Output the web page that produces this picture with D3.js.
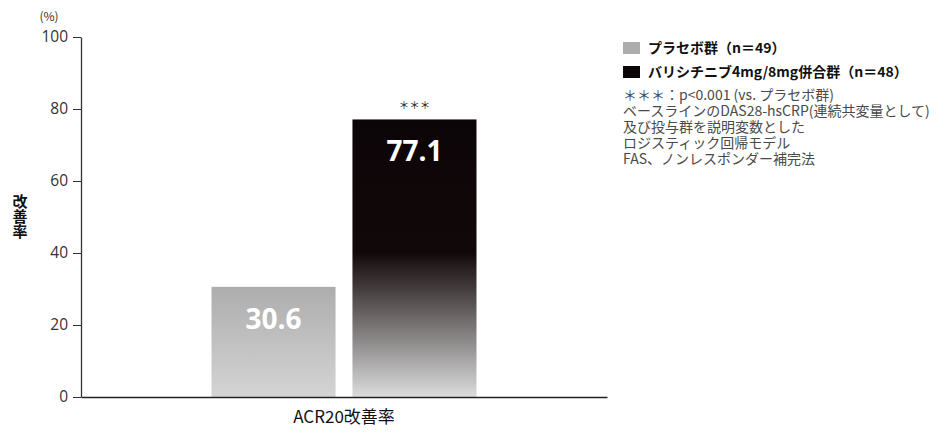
<!DOCTYPE html>
<html>
<head>
<meta charset="utf-8">
<script src="https://cdn.jsdelivr.net/npm/d3@7"></script>
<style>
  body { margin: 0; background: #fff; }
  svg { display: block; font-family: "Noto Sans CJK JP", "Noto Sans", sans-serif; }
</style>
</head>
<body>
<svg id="chart" width="942" height="434"></svg>
<script>
// data
const categories = ["ACR20改善率"];
const groups = ["プラセボ群（n＝49）", "バリシチニブ4mg/8mg併合群（n＝48）"];
const values = [30.6, 77.1];
const yTicks = [0, 20, 40, 60, 80, 100];
const notes = [
  "＊＊＊：p<0.001 (vs. プラセボ群)",
  "ベースラインのDAS28-hsCRP(連続共変量として)",
  "及び投与群を説明変数とした",
  "ロジスティック回帰モデル",
  "FAS、ノンレスポンダー補完法"
];
const sigMarks = ["", "＊＊＊"];

const svg = d3.select("#chart");
const margin = {left: 81, right: 335, top: 37, bottom: 37};
const W = 942, H = 434;

const y = d3.scaleLinear().domain([0, 100]).range([H - margin.bottom, margin.top]);
const x0 = d3.scaleBand().domain(categories).range([margin.left, W - margin.right])
  .paddingInner(0).paddingOuter(0.4925);
const x1 = d3.scaleBand().domain(groups).range([0, x0.bandwidth()])
  .paddingInner(0.12).paddingOuter(0);

// gradients
const defs = svg.append("defs");
const g1 = defs.append("linearGradient").attr("id", "gPlacebo")
  .attr("x1", 0).attr("y1", 0).attr("x2", 0).attr("y2", 1);
g1.append("stop").attr("offset", "0%").attr("stop-color", "#adadad");
g1.append("stop").attr("offset", "100%").attr("stop-color", "#d4d4d4");
const g2 = defs.append("linearGradient").attr("id", "gBari")
  .attr("x1", 0).attr("y1", 0).attr("x2", 0).attr("y2", 1);
g2.append("stop").attr("offset", "0%").attr("stop-color", "#0c0507");
g2.append("stop").attr("offset", "48%").attr("stop-color", "#110809");
g2.append("stop").attr("offset", "100%").attr("stop-color", "#dcdcdc");
const fills = ["url(#gPlacebo)", "url(#gBari)"];

// bars
const barG = svg.append("g");
barG.selectAll("rect.bar")
  .data(values)
  .enter()
  .append("rect")
  .classed("bar", true)
  .attr("x", (d, i) => x0(categories[0]) + x1(groups[i]))
  .attr("y", d => y(d))
  .attr("width", x1.bandwidth())
  .attr("height", d => y(0) - y(d))
  .attr("fill", (d, i) => fills[i]);

// value labels
barG.selectAll("text.val")
  .data(values)
  .enter()
  .append("text")
  .classed("val", true)
  .attr("x", (d, i) => x0(categories[0]) + x1(groups[i]) + x1.bandwidth() / 2)
  .attr("y", d => y(d) + 42)
  .attr("text-anchor", "middle")
  .attr("fill", "#fff")
  .attr("font-family", "'Open Sans', 'Noto Sans', sans-serif")
  .attr("font-weight", 700)
  .attr("font-size", "28px")
  .text(d => d.toFixed(1));

// significance
barG.selectAll("text.sig")
  .data(values)
  .enter()
  .append("text")
  .classed("sig", true)
  .attr("x", (d, i) => x0(categories[0]) + x1(groups[i]) + x1.bandwidth() / 2)
  .attr("y", d => y(d) - 10)
  .attr("text-anchor", "middle")
  .attr("fill", "#222")
  .attr("font-size", "10.5px")
  .text((d, i) => sigMarks[i]);

// y axis
const yAxis = svg.append("g")
  .attr("transform", `translate(${margin.left},0)`)
  .call(d3.axisLeft(y).tickValues(yTicks).tickSize(8).tickSizeOuter(0).tickPadding(5));
yAxis.select(".domain").attr("stroke", "#333").attr("stroke-width", 1.3);
yAxis.selectAll(".tick line").attr("stroke", "#333");
yAxis.selectAll(".tick text")
  .attr("font-family", "'Open Sans', 'Noto Sans', sans-serif")
  .attr("font-size", "15.5px").attr("fill", "#333");

// x axis
const xAxis = svg.append("g")
  .attr("transform", `translate(0,${y(0)})`)
  .call(d3.axisBottom(x0).tickSize(0).tickSizeOuter(0).tickPadding(14));
xAxis.select(".domain").attr("stroke", "#222").attr("stroke-width", 1.5);
xAxis.selectAll(".tick text").attr("font-size", "17px").attr("fill", "#111")
  .attr("font-family", "'Noto Sans CJK JP', sans-serif");

// unit and y title
svg.append("text").attr("x", 49).attr("y", 21).attr("text-anchor", "middle")
  .attr("font-size", "12px").attr("fill", "#333").text("(%)");
svg.append("text")
  .attr("x", 20).attr("y", 194)
  .attr("writing-mode", "vertical-rl")
  .attr("font-size", "15px").attr("font-weight", 700).attr("fill", "#111")
  .text("改善率");

// legend
const leg = svg.append("g").attr("transform", "translate(623,42)");
const legFill = ["#aeaeae", "#0c0507"];
const li = leg.selectAll("g").data(groups).enter().append("g")
  .attr("transform", (d, i) => `translate(0,${i * 24})`);
li.append("rect").attr("width", 17).attr("height", 12).attr("fill", (d, i) => legFill[i]);
li.append("text").attr("x", 25).attr("y", 11)
  .attr("font-size", "14px").attr("font-weight", 700).attr("fill", "#111")
  .text(d => d);

// notes
svg.append("g").selectAll("text").data(notes).enter().append("text")
  .attr("x", 623).attr("y", (d, i) => 100 + i * 16)
  .attr("font-size", "14px").attr("fill", "#4a4a4a")
  .text(d => d);
</script>
</body>
</html>
